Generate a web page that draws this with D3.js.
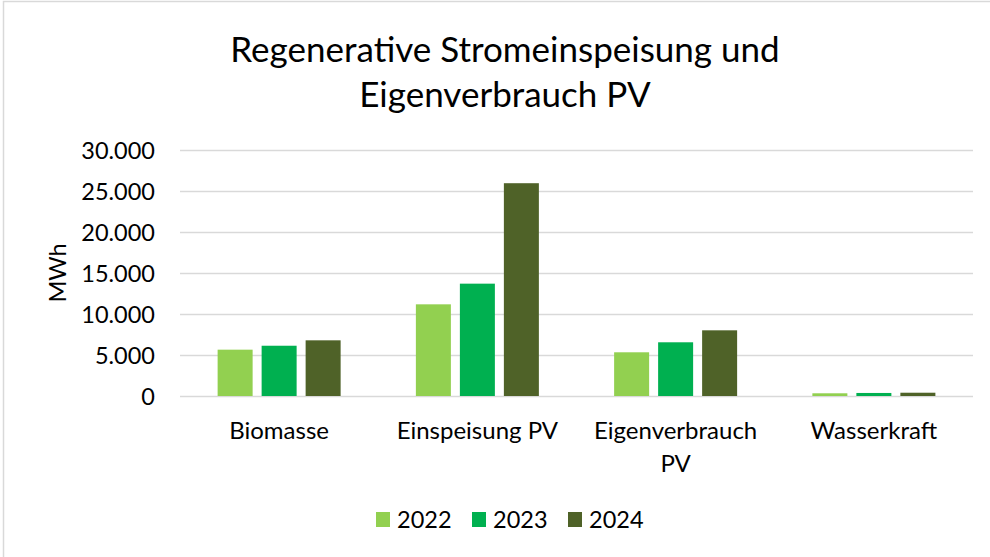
<!DOCTYPE html>
<html><head><meta charset="utf-8">
<script src="https://cdn.jsdelivr.net/npm/d3@7"></script>
<style>html,body{margin:0;padding:0;background:#fff;}svg{display:block;font-family:Lato,"Open Sans",sans-serif;}</style>
</head><body><svg id="c" width="990" height="557"></svg>
<script>
const categories = [["Biomasse"], ["Einspeisung PV"], ["Eigenverbrauch", "PV"], ["Wasserkraft"]];
const years = ["2022", "2023", "2024"];
const values2022 = [5650, 11180, 5330, 330];
const values2023 = [6130, 13700, 6550, 370];
const values2024 = [6790, 25950, 8010, 400];
const yTicks = [0, 5000, 10000, 15000, 20000, 25000, 30000];
const colors = ["#92d050", "#00b050", "#4f6228"];
const seriesValues = [values2022, values2023, values2024];

(function () {
const svg = d3.select("#c");
svg.append("rect").attr("x", 3.5).attr("y", 1.5).attr("width", 1000).attr("height", 570)
  .attr("fill", "#fff").attr("stroke", "#d9d9d9").attr("stroke-width", 1.5);

const pL = 180, pR = 973, pT = 150, pB = 396;
const x0 = d3.scaleBand().domain(d3.range(categories.length)).range([pL, pR]).paddingInner(0).paddingOuter(0);
const groupW = 123;
const x1 = d3.scaleBand().domain(years).range([0, groupW]).paddingInner(9/44).paddingOuter(0);
const y = d3.scaleLinear().domain([0, 30000]).range([pB, pT]);

// gridlines
const gy = svg.append("g").attr("transform", `translate(${pL},0)`)
  .call(d3.axisLeft(y).tickValues(yTicks).tickSize(-(pR - pL)).tickFormat(""));
gy.select(".domain").remove();
gy.selectAll(".tick line").attr("stroke", "#d9d9d9").attr("stroke-width", 1.5);

// y labels
const fmt = v => d3.format(",")(v).replace(/,/g, ".");
const yl = svg.append("g").attr("transform", `translate(155,0)`)
  .call(d3.axisLeft(y).tickValues(yTicks).tickSize(0).tickPadding(0).tickFormat(fmt));
yl.select(".domain").remove();
yl.selectAll("text").attr("font-family", "Lato").attr("font-size", 23.5).attr("fill", "#000").attr("dy", "0.36em");

svg.append("text").attr("transform", `translate(66,${(pT+pB)/2}) rotate(-90)`)
  .attr("text-anchor", "middle").attr("font-size", 23.5).attr("fill", "#000").text("MWh");

// bars
const off = (x0.bandwidth() - groupW) / 2;
const groups = svg.append("g").selectAll("g").data(categories).join("g")
  .attr("transform", (d, i) => `translate(${x0(i) + off},0)`);
groups.selectAll("rect").data((d, i) => years.map((yr, j) => ({yr, v: seriesValues[j][i], c: colors[j]})))
  .join("rect")
  .attr("x", d => x1(d.yr)).attr("width", x1.bandwidth())
  .attr("y", d => y(d.v)).attr("height", d => pB - y(d.v))
  .attr("fill", d => d.c);

// category labels
const cl = svg.append("g").selectAll("text").data(categories).join("text")
  .attr("x", (d, i) => x0(i) + x0.bandwidth() / 2).attr("y", 439)
  .attr("text-anchor", "middle").attr("font-size", 24).attr("fill", "#000");
cl.selectAll("tspan").data(d => d).join("tspan")
  .attr("x", function() { return this.parentNode.getAttribute("x"); })
  .attr("dy", (d, i) => i === 0 ? 0 : 33).text(d => d);

// title
const title = svg.append("text").attr("text-anchor", "middle").attr("font-size", 35).attr("fill", "#000");
title.append("tspan").attr("x", 505).attr("y", 62).text("Regenerative Stromeinspeisung und");
title.append("tspan").attr("x", 505).attr("y", 107).text("Eigenverbrauch PV");

// legend
const lg = svg.append("g").selectAll("g").data(years).join("g")
  .attr("transform", (d, i) => `translate(${376 + i * 96},0)`);
lg.append("rect").attr("x", 0).attr("y", 512).attr("width", 14).attr("height", 15).attr("fill", (d, i) => colors[i]);
lg.append("text").attr("x", 21).attr("y", 528).attr("font-size", 23.5).attr("fill", "#000").text(d => d);
})();
</script></body></html>
